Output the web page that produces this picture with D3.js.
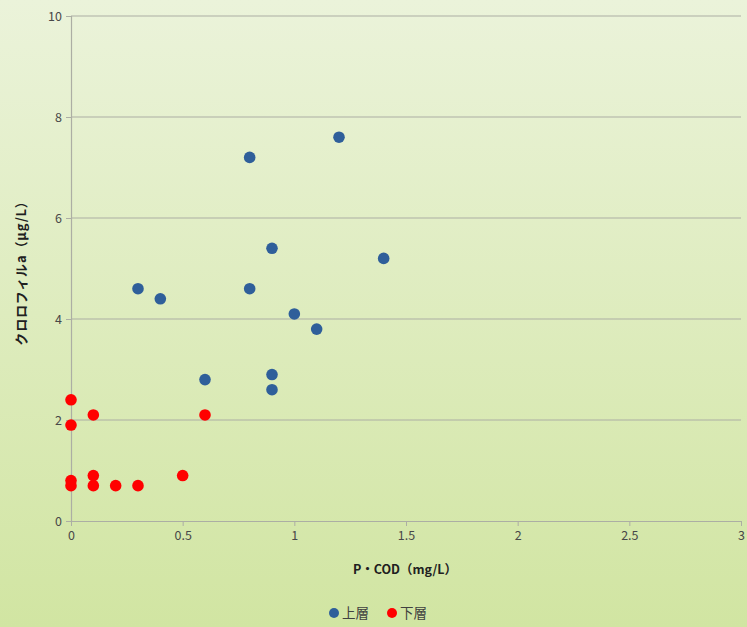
<!DOCTYPE html>
<html>
<head>
<meta charset="utf-8">
<script src="https://cdn.jsdelivr.net/npm/d3@7"></script>
<style>
  html, body { margin: 0; padding: 0; }
  body { width: 747px; height: 627px; overflow: hidden; }
</style>
</head>
<body>
<svg id="chart" width="747" height="627"></svg>
<script>
// Series: P・COD (mg/L) vs chlorophyll-a (μg/L)
const upperX = [0.3, 0.4, 0.6, 0.8, 0.8, 0.9, 0.9, 0.9, 1.0, 1.1, 1.2, 1.4];
const upperY = [4.6, 4.4, 2.8, 7.2, 4.6, 5.4, 2.9, 2.6, 4.1, 3.8, 7.6, 5.2];
const lowerX = [0, 0, 0, 0, 0.1, 0.1, 0.1, 0.2, 0.3, 0.5, 0.6];
const lowerY = [2.4, 1.9, 0.8, 0.7, 2.1, 0.9, 0.7, 0.7, 0.7, 0.9, 2.1];
const xTicks = [0, 0.5, 1, 1.5, 2, 2.5, 3];
const yTicks = [0, 2, 4, 6, 8, 10];
const seriesNames = ["上層", "下層"];
const seriesColors = ["#2f5f9a", "#ff0000"];

const svg = d3.select("#chart");
const W = 747, H = 627;
const m = { left: 71, right: 6, top: 16, bottom: 106 };

const defs = svg.append("defs");
const grad = defs.append("linearGradient").attr("id", "bg")
  .attr("x1", 0).attr("y1", 0).attr("x2", 0).attr("y2", 1);
grad.append("stop").attr("offset", "0%").attr("stop-color", "#ebf3da");
grad.append("stop").attr("offset", "100%").attr("stop-color", "#d1e5a2");
svg.append("rect").attr("width", W).attr("height", H).attr("fill", "url(#bg)");

const x = d3.scaleLinear().domain([0, 3]).range([m.left, W - m.right]);
const y = d3.scaleLinear().domain([0, 10]).range([H - m.bottom, m.top]);

const font = "'Noto Sans CJK JP', 'DejaVu Sans', sans-serif";
const gridColor = "#acaea4";

// horizontal gridlines
svg.append("g").selectAll("line").data(yTicks.filter(d => d > 0)).join("line")
  .attr("x1", x(0)).attr("x2", x(3))
  .attr("y1", d => y(d)).attr("y2", d => y(d))
  .attr("stroke", gridColor).attr("stroke-width", 1.2);

// y axis
const yAxis = svg.append("g").attr("transform", `translate(${x(0)},0)`)
  .call(d3.axisLeft(y).tickValues(yTicks).tickSize(5).tickFormat(d3.format("d")));
yAxis.select(".domain").attr("stroke", gridColor).attr("stroke-width", 1.2);
yAxis.selectAll(".tick line").attr("stroke", gridColor);
yAxis.selectAll("text").attr("fill", "#484848").attr("font-size", 12.5)
  .attr("font-family", font).attr("x", -9);

// x axis
const xAxis = svg.append("g").attr("transform", `translate(0,${y(0)})`)
  .call(d3.axisBottom(x).tickValues(xTicks).tickSize(5).tickSizeOuter(0).tickFormat(d3.format("")));
xAxis.select(".domain").attr("stroke", gridColor).attr("stroke-width", 1.2);
xAxis.selectAll(".tick line").attr("stroke", gridColor);
xAxis.selectAll("text").attr("fill", "#484848").attr("font-size", 12.5)
  .attr("font-family", font).attr("y", 10);

// points
const series = [
  upperX.map((v, i) => [v, upperY[i]]),
  lowerX.map((v, i) => [v, lowerY[i]])
];
series.forEach((pts, s) => {
  svg.append("g").selectAll("circle").data(pts).join("circle")
    .attr("cx", d => x(d[0])).attr("cy", d => y(d[1]))
    .attr("r", 5.8).attr("fill", seriesColors[s]);
});

// axis titles
svg.append("text").attr("x", 405).attr("y", 574)
  .attr("text-anchor", "middle").attr("font-size", 12.5).attr("font-weight", "bold")
  .attr("font-family", font).attr("fill", "#202020").text("P・COD（mg/L）");
svg.append("text").attr("transform", "translate(26,270) rotate(-90)")
  .attr("text-anchor", "middle").attr("font-size", 13).attr("font-weight", "bold")
  .attr("letter-spacing", 0.8)
  .attr("font-family", font).attr("fill", "#202020").text("クロロフィルa（μg/L）");

// legend
const leg = svg.append("g");
const items = [{ x: 334 }, { x: 392 }];
seriesNames.forEach((name, i) => {
  leg.append("circle").attr("cx", items[i].x).attr("cy", 613).attr("r", 5).attr("fill", seriesColors[i]);
  leg.append("text").attr("x", items[i].x + 8).attr("y", 618)
    .attr("font-size", 13.5).attr("font-family", font).attr("fill", "#404040").text(name);
});
</script>
</body>
</html>
